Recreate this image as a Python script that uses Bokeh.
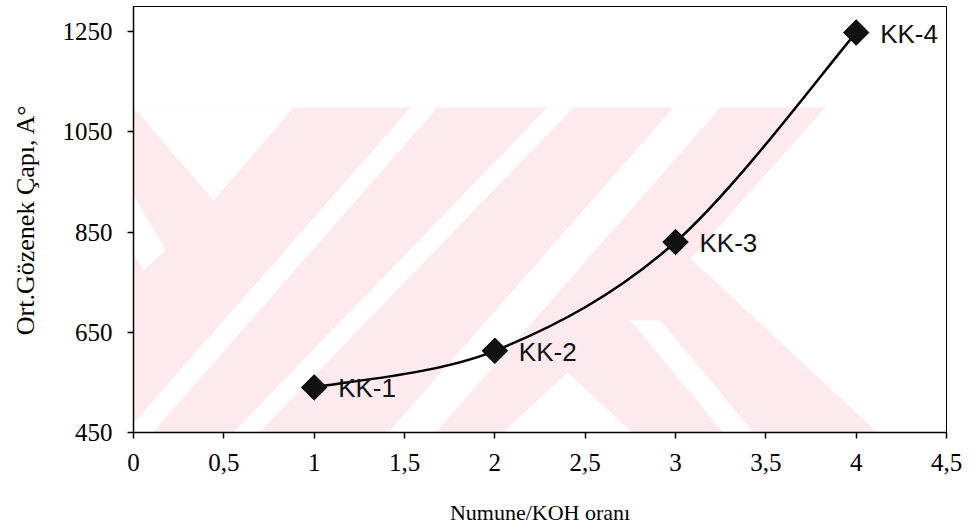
import numpy as np
from bokeh.plotting import figure
from bokeh.models import FixedTicker, Range1d, PolyAnnotation
from bokeh.core.properties import value
from bokeh.embed import file_html
from bokeh.resources import INLINE

# ---- data ----
ratio = [1, 2, 3, 4]
pore_diameter = [540, 613, 830, 1248]
sample_labels = ["KK-1", "KK-2", "KK-3", "KK-4"]
x_ticks = [0, 0.5, 1, 1.5, 2, 2.5, 3, 3.5, 4, 4.5]
x_tick_labels = ["0", "0,5", "1", "1,5", "2", "2,5", "3", "3,5", "4", "4,5"]
y_ticks = [450, 650, 850, 1050, 1250]

W, H = 973, 527
BL, BR, BT, BB = 133, 27, 6, 95

p = figure(width=W, height=H, x_range=Range1d(0, 4.5), y_range=Range1d(450, 1300),
           output_backend="svg", toolbar_location=None,
           min_border_left=BL, min_border_right=BR, min_border_top=BT, min_border_bottom=BB)
p.background_fill_color = "white"
p.border_fill_color = "white"
p.outline_line_color = "black"
p.outline_line_width = 1
p.xgrid.visible = False
p.ygrid.visible = False

# ---- faint watermark (page decoration, canvas pixels) ----
wm_pink = [
    [(0, 107), (825, 107), (690, 258), (920, 472), (0, 472)],
]
wm_white = [
    [(133, 107), (293, 107), (213, 200)],
    [(43, 107), (83, 107), (165, 250), (143, 270)],
    [(410, 107), (437, 107), (117, 472), (90, 472)],
    [(547, 107), (573, 107), (220, 472), (194, 472)],
    [(673, 107), (720, 107), (400, 472), (353, 472)],
    [(567, 372), (675, 472), (460, 472)],
    [(630, 320), (660, 320), (786, 472), (756, 472)],
]
wm = []
for polys, col in ((wm_pink, "#fdeaee"), (wm_white, "white")):
    for poly in polys:
        wm.append(PolyAnnotation(xs=[a for a, b in poly], ys=[b for a, b in poly],
                                 xs_units="canvas", ys_units="canvas", level="guide",
                                 fill_color=col, fill_alpha=1, line_color=None))
p.renderers = wm + list(p.renderers)

# ---- smoothed curve through the points (Bezier, Excel-style) ----
xs = np.array(ratio, float)
ys = np.array(pore_diameter, float)
n = len(xs)
seg = dict(x0=[], y0=[], x1=[], y1=[], cx0=[], cy0=[], cx1=[], cy1=[])
for i in range(n - 1):
    im1 = i - 1 if i > 0 else i
    ip2 = i + 2 if i + 2 < n else i + 1
    seg["x0"].append(xs[i]); seg["y0"].append(ys[i])
    seg["x1"].append(xs[i + 1]); seg["y1"].append(ys[i + 1])
    seg["cx0"].append(xs[i] + (xs[i + 1] - xs[im1]) / 6)
    seg["cy0"].append(ys[i] + (ys[i + 1] - ys[im1]) / 6)
    seg["cx1"].append(xs[i + 1] - (xs[ip2] - xs[i]) / 6)
    seg["cy1"].append(ys[i + 1] - (ys[ip2] - ys[i]) / 6)
p.bezier(line_color="black", line_width=2.5, level="annotation", **seg)

p.scatter(ratio, pore_diameter, marker="square", angle=np.pi / 4, size=18,
          fill_color="#111111", line_color="black", line_width=1, level="annotation")
p.text(x=ratio, y=pore_diameter, text=sample_labels, x_offset=24, y_offset=1,
       text_baseline="middle", text_align="left", level="annotation",
       text_font=value("Liberation Sans"), text_font_size="26px", text_color="#111111")

# ---- axes ----
p.xaxis.ticker = FixedTicker(ticks=x_ticks)
p.xaxis.major_label_overrides = {t: l for t, l in zip(x_ticks, x_tick_labels)}
p.yaxis.ticker = FixedTicker(ticks=y_ticks)
p.xaxis.axis_label = "Numune/KOH oranı"
p.yaxis.axis_label = "Ort.Gözenek Çapı, A°"
for ax in (p.xaxis[0], p.yaxis[0]):
    ax.axis_line_color = "black"
    ax.axis_line_width = 1.5
    ax.major_tick_line_color = "black"
    ax.major_tick_line_width = 1.5
    ax.major_tick_out = 6
    ax.major_tick_in = 0
    ax.minor_tick_line_color = None
    ax.major_label_text_font = "Liberation Serif"
    ax.major_label_text_font_size = "25px"
    ax.major_label_text_color = "black"
    ax.axis_label_text_font = "Liberation Serif"
    ax.axis_label_text_font_style = "normal"
    ax.axis_label_text_color = "black"
p.xaxis.major_label_standoff = 15
p.xaxis.axis_label_text_font_size = "22px"
p.xaxis.axis_label_standoff = 26
p.yaxis.major_label_standoff = 15
p.yaxis.axis_label_text_font_size = "26px"
p.yaxis.axis_label_standoff = 20

open("out.html", "w").write(file_html(p, INLINE))
